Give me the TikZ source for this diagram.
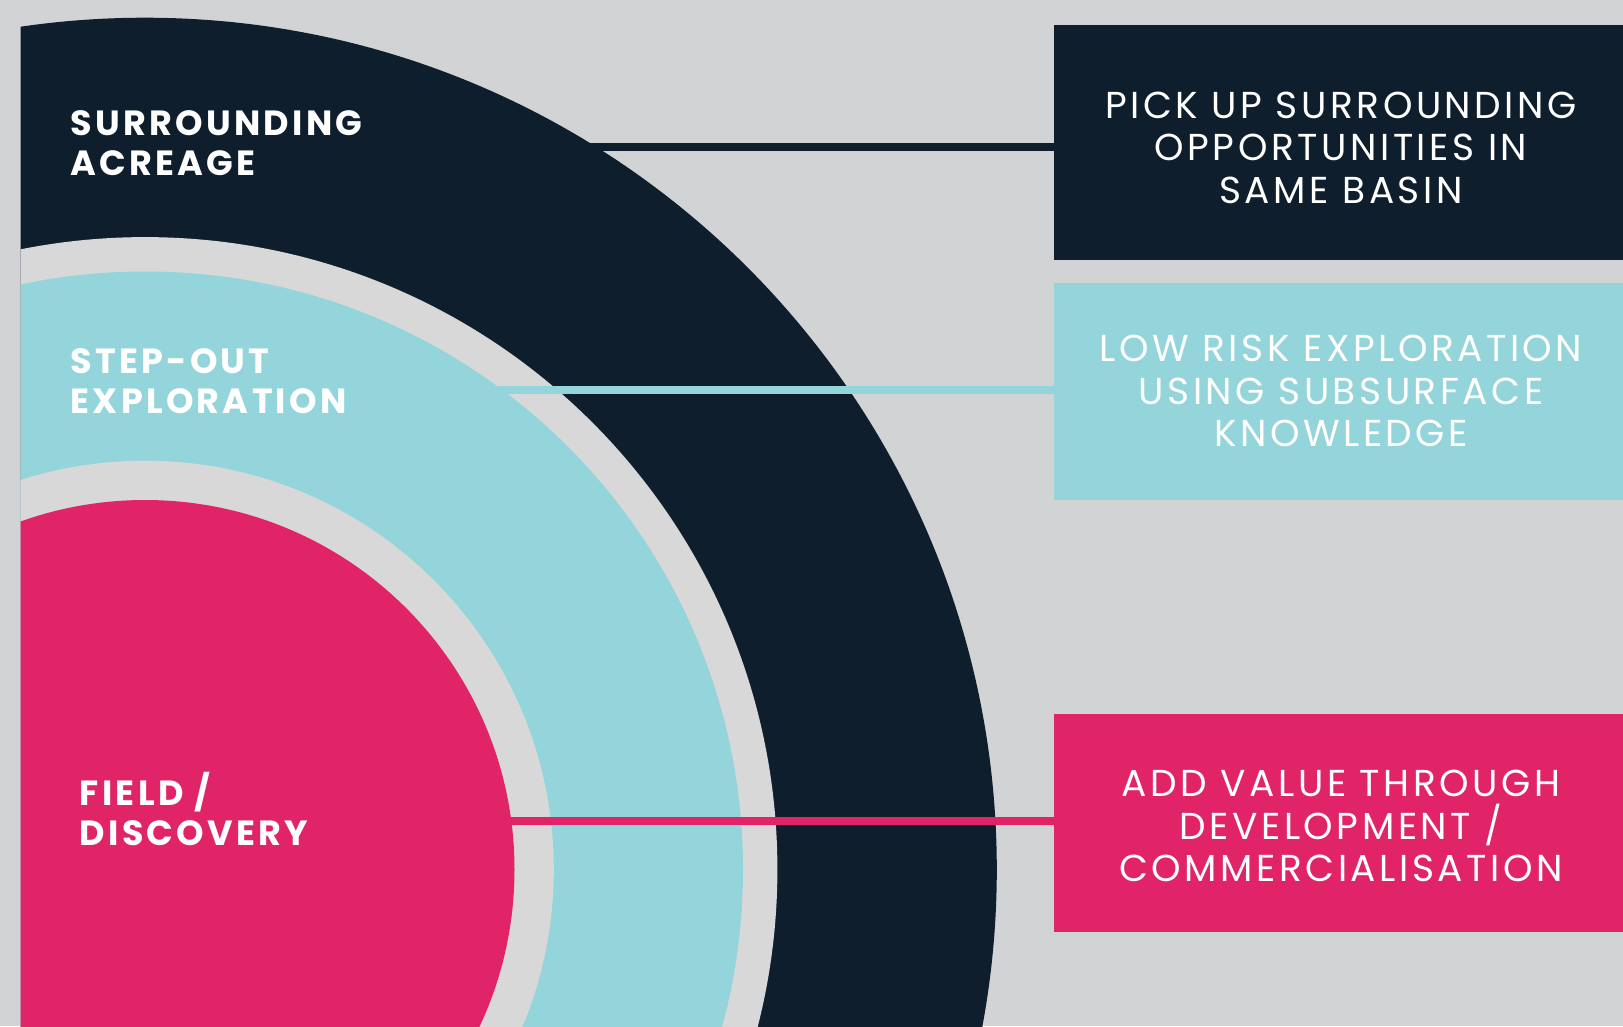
\documentclass[tikz,border=0pt]{standalone}
\usepackage{fontspec}
\setmainfont{Poppins}
\newfontfamily\labfont[LetterSpace=9.3]{Poppins}
\newfontfamily\boxfont[LetterSpace=9.5]{Poppins}
\definecolor{bgc}{HTML}{D2D3D5}
\definecolor{gapc}{HTML}{D8D8D8}
\definecolor{navy}{HTML}{0F1E2D}
\definecolor{aqua}{HTML}{93D5DA}
\definecolor{rose}{HTML}{E02467}
\tikzset{
  panel/.style={rectangle, inner sep=0pt, minimum width=569.4pt, anchor=north west},
  paneltext/.style={text=white, align=center, inner sep=0pt, font=\boxfont\fontsize{37.5}{42.5}\selectfont},
  ringlabel/.style={text=white, align=left, inner sep=0pt, anchor=north west, font=\labfont\bfseries\fontsize{35}{40}\selectfont},
  link/.style={line width=8pt}
}
\begin{document}
\begin{tikzpicture}[x=1pt,y=-1pt]
\useasboundingbox (0,0) rectangle (1623,1026);
\fill[bgc] (0,0) rectangle (1623,1026);
\coordinate (c) at (145,869.5);
\begin{scope}
  \clip (20.7,0) rectangle (1623,1026);
  \fill[navy] (c) circle[radius=851.8];
  \fill[gapc] (c) circle[radius=632.4];
  \fill[aqua] (c) circle[radius=598];
  \fill[gapc] (c) circle[radius=408.8];
  \fill[rose] (c) circle[radius=369.5];
\end{scope}
% panels
\node[panel, fill=navy, minimum height=235pt] (b1) at (1053.6,24.8) {};
\node[panel, fill=aqua, minimum height=217.4pt] (b2) at (1053.6,282.6) {};
\node[panel, fill=rose, minimum height=217.5pt] (b3) at (1053.6,714) {};
% connector start points on the rings
\coordinate (s1) at (590,147);
\coordinate (s2) at (498,390);
\coordinate (s3) at (510,820.7);
\draw[link, navy] (s1) -- (s1 -| b1.west);
\draw[link, aqua] (s2) -- (s2 -| b2.west);
\draw[link, rose] (s3) -- (s3 -| b3.west);
% panel texts
\node[paneltext] (t1) at (1341,147.5) {PICK UP SURROUNDING\\OPPORTUNITIES IN\\SAME BASIN};
\node[paneltext] (t2) at (1341,391.2) {LOW RISK EXPLORATION\\USING SUBSURFACE\\KNOWLEDGE};
\node[paneltext] (t3) at (1341,826) {ADD VALUE THROUGH\\DEVELOPMENT /\\COMMERCIALISATION};
% ring labels
\node[ringlabel] (l1) at (70.4,110.7) {SURROUNDING\\ACREAGE};
\node[ringlabel] (l2) at (70.4,348.8) {STEP-OUT\\EXPLORATION};
\node[ringlabel] (l3) at (79.7,772.3) {FIELD~/\\DISCOVERY};
\end{tikzpicture}
\end{document}
